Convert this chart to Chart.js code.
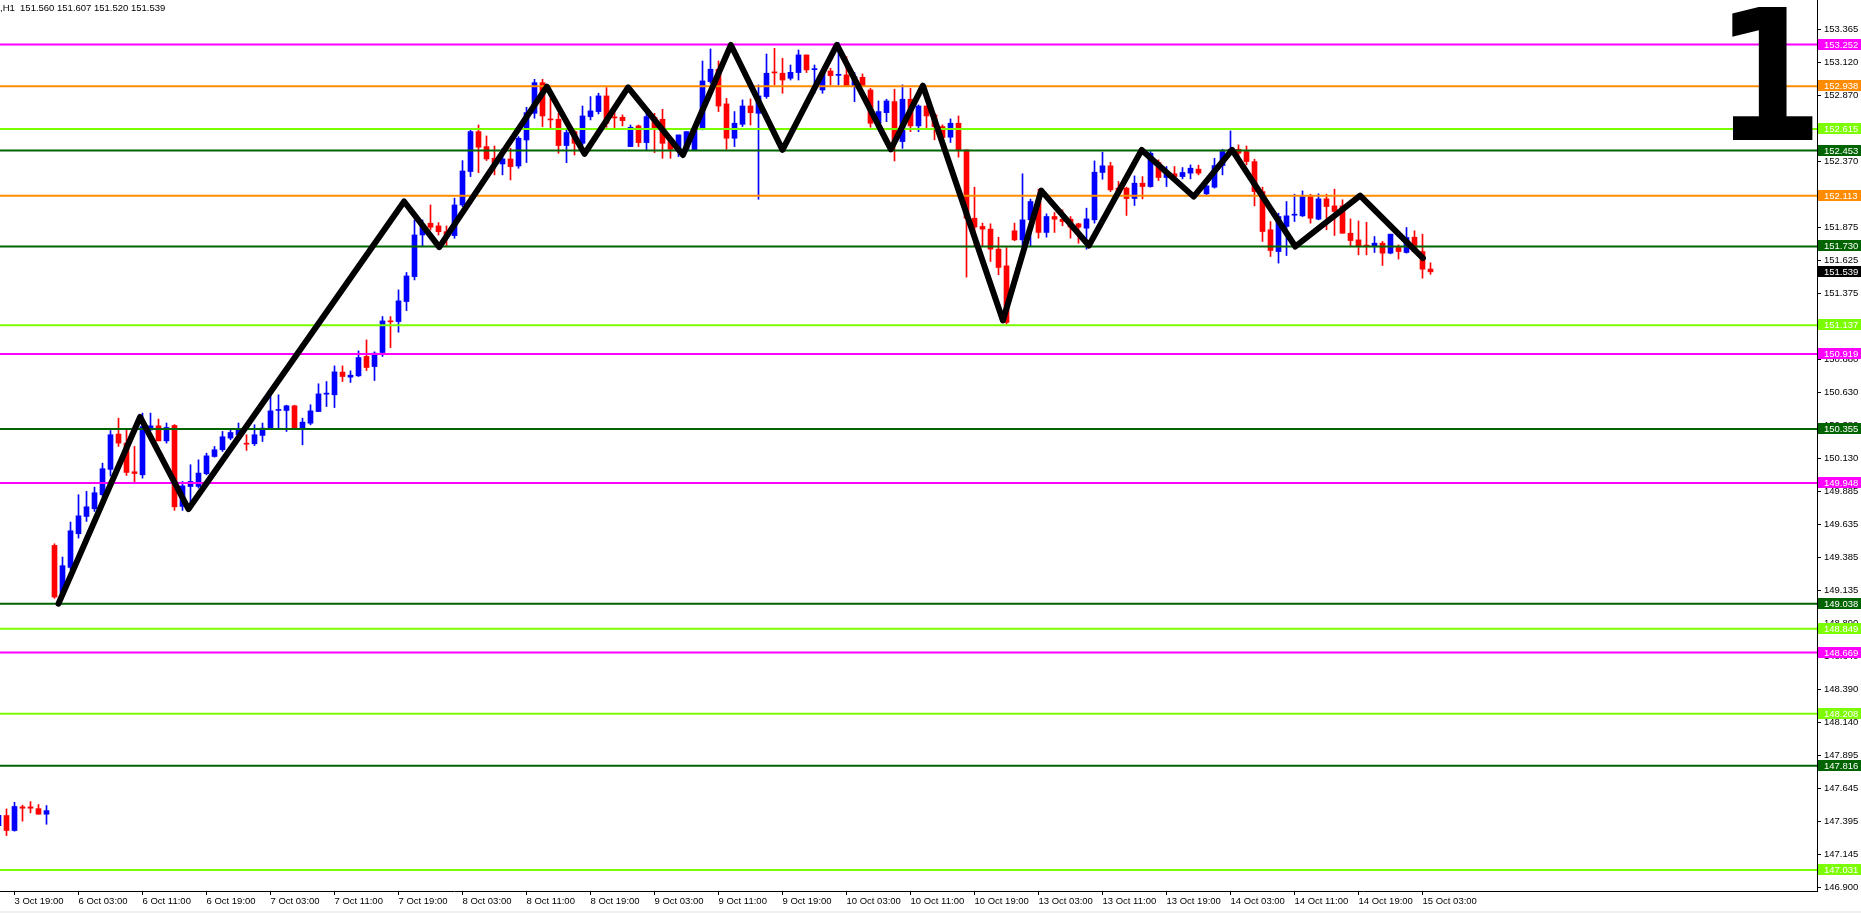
<!DOCTYPE html>
<html>
<head>
<meta charset="utf-8">
<script src="https://cdn.jsdelivr.net/npm/chart.js@4.4.1/dist/chart.umd.min.js"></script>
<style>
  html, body { margin: 0; padding: 0; background: #f0f0f0; }
  #wrap { width: 1861px; height: 911px; background: #fff; position: relative; }
</style>
</head>
<body>
<div id="wrap"><canvas id="chart"></canvas></div>
<script>
// Бары H1, индекс 0 = 3 Oct 18:00, шаг 1 час (выходные пропущены)
const FIRST_BAR = -1;
const opens = [
  147.365, 147.441, 147.328, 147.506, 147.506, 147.493, 147.451,
  149.477, 149.118, 149.311, 149.565, 149.695, 149.753, 149.859, 150.050, 150.316, 150.248,
  150.032, 150.009, 150.348, 150.378, 150.265, 150.381, 149.771, 149.921, 149.921, 150.017,
  150.147, 150.198, 150.286, 150.311, 150.245, 150.243, 150.306, 150.356, 150.494, 150.494,
  150.529, 150.353, 150.398, 150.486, 150.617, 150.612, 150.783, 150.745, 150.755, 150.901,
  150.825, 150.931, 151.169, 151.164, 151.315, 151.503, 151.817, 151.905, 151.885, 151.842,
  151.812, 152.043, 152.295, 152.596, 152.483, 152.395, 152.352, 152.390, 152.337, 152.533,
  152.734, 152.965, 152.691, 152.689, 152.491, 152.596, 152.508, 152.709, 152.747, 152.865,
  152.707, 152.704, 152.483, 152.639, 152.513, 152.704, 152.689, 152.521, 152.463, 152.463,
  152.458, 152.626, 152.973, 153.066, 152.805, 152.546, 152.651, 152.789, 152.734, 152.860,
  153.046, 153.036, 152.998, 153.041, 153.174, 153.063, 152.910, 153.053, 153.020, 153.023,
  152.940, 153.005, 152.910, 152.659, 152.739, 152.822, 152.521, 152.840, 152.639, 152.789,
  152.722, 152.634, 152.554, 152.659, 152.458, 151.943, 151.881, 151.861, 151.710, 151.584,
  151.848, 151.780, 151.931, 152.069, 151.836, 151.956, 151.936, 151.936, 151.901, 151.868,
  151.931, 152.288, 152.338, 152.170, 152.170, 152.092, 152.207, 152.182, 152.363, 152.250,
  152.278, 152.257, 152.283, 152.313, 152.127, 152.177, 152.340, 152.446, 152.463, 152.446,
  152.370, 152.144, 151.856, 151.692, 151.881, 151.966, 151.961, 152.107, 151.936, 152.089,
  152.036, 152.036, 151.830, 151.780, 151.738, 151.730, 151.755, 151.680, 151.723, 151.685,
  151.800, 151.692, 151.560
];
const highs = [
  147.450, 147.491, 147.541, 147.519, 147.546, 147.524, 147.516,
  149.489, 149.389, 149.653, 149.859, 149.884, 149.916, 150.097, 150.343, 150.436, 150.348,
  150.223, 150.474, 150.474, 150.429, 150.399, 150.388, 149.959, 150.085, 150.122, 150.172,
  150.223, 150.336, 150.348, 150.399, 150.311, 150.386, 150.399, 150.612, 150.612, 150.534,
  150.534, 150.436, 150.537, 150.695, 150.712, 150.830, 150.830, 150.793, 150.943, 151.026,
  150.936, 151.202, 151.202, 151.403, 151.534, 151.930, 151.930, 152.043, 151.910, 151.885,
  152.094, 152.377, 152.609, 152.646, 152.563, 152.488, 152.470, 152.470, 152.558, 152.779,
  152.990, 152.990, 152.847, 152.734, 152.609, 152.609, 152.789, 152.860, 152.885, 152.928,
  152.759, 152.722, 152.646, 152.646, 152.734, 152.734, 152.764, 152.533, 152.571, 152.596,
  152.614, 153.128, 153.219, 153.128, 152.847, 152.747, 152.835, 152.842, 152.948, 153.181,
  153.224, 153.149, 153.098, 153.211, 153.174, 153.098, 153.061, 153.073, 153.267, 153.161,
  153.041, 153.031, 152.922, 152.827, 152.840, 152.915, 152.948, 152.923, 152.797, 152.789,
  152.734, 152.647, 152.692, 152.714, 152.458, 152.177, 151.906, 151.901, 151.800, 151.722,
  151.906, 152.278, 152.087, 152.162, 151.976, 151.986, 152.006, 151.956, 151.906, 152.019,
  152.375, 152.441, 152.365, 152.220, 152.177, 152.262, 152.257, 152.446, 152.383, 152.333,
  152.333, 152.325, 152.345, 152.343, 152.195, 152.395, 152.463, 152.601, 152.496, 152.488,
  152.388, 152.177, 151.918, 151.981, 152.069, 152.124, 152.149, 152.124, 152.127, 152.124,
  152.162, 152.082, 151.938, 151.923, 151.913, 151.805, 151.768, 151.823, 151.742, 151.873,
  151.848, 151.823, 151.607
];
const lows = [
  147.360, 147.290, 147.323, 147.398, 147.461, 147.451, 147.375,
  149.078, 149.105, 149.294, 149.532, 149.658, 149.733, 149.846, 150.000, 150.223, 150.004,
  149.952, 149.984, 150.343, 150.265, 150.248, 149.741, 149.741, 149.746, 149.909, 150.009,
  150.142, 150.185, 150.273, 150.298, 150.193, 150.230, 150.260, 150.356, 150.353, 150.336,
  150.353, 150.235, 150.386, 150.486, 150.524, 150.516, 150.712, 150.705, 150.750, 150.795,
  150.720, 150.901, 150.968, 151.084, 151.247, 151.478, 151.734, 151.855, 151.817, 151.734,
  151.792, 152.031, 152.257, 152.287, 152.378, 152.270, 152.270, 152.232, 152.320, 152.363,
  152.697, 152.634, 152.621, 152.433, 152.362, 152.420, 152.496, 152.684, 152.729, 152.629,
  152.626, 152.639, 152.483, 152.483, 152.458, 152.438, 152.395, 152.395, 152.408, 152.445,
  152.458, 152.609, 152.960, 152.747, 152.463, 152.483, 152.634, 152.646, 152.086, 152.847,
  152.948, 152.885, 152.985, 152.985, 153.041, 152.885, 152.885, 152.948, 152.948, 152.935,
  152.822, 152.935, 152.629, 152.651, 152.671, 152.375, 152.470, 152.596, 152.596, 152.621,
  152.534, 152.534, 152.514, 152.403, 151.499, 151.730, 151.730, 151.617, 151.517, 151.145,
  151.773, 151.735, 151.735, 151.793, 151.800, 151.836, 151.886, 151.793, 151.755, 151.710,
  151.906, 152.237, 152.144, 152.107, 151.964, 152.039, 152.089, 152.177, 152.227, 152.182,
  152.220, 152.240, 152.240, 152.270, 152.119, 152.170, 152.270, 152.433, 152.358, 152.345,
  152.036, 151.768, 151.655, 151.605, 151.662, 151.918, 151.956, 151.906, 151.931, 151.856,
  151.813, 151.830, 151.730, 151.667, 151.667, 151.685, 151.587, 151.675, 151.635, 151.680,
  151.685, 151.491, 151.520
];
const closes = [
  147.443, 147.328, 147.509, 147.496, 147.496, 147.451, 147.478,
  149.088, 149.324, 149.587, 149.700, 149.768, 149.874, 150.055, 150.311, 150.248, 150.027,
  150.019, 150.373, 150.378, 150.265, 150.366, 149.768, 149.926, 149.959, 150.022, 150.152,
  150.198, 150.296, 150.328, 150.348, 150.240, 150.311, 150.361, 150.491, 150.500, 150.529,
  150.353, 150.406, 150.491, 150.619, 150.622, 150.785, 150.750, 150.760, 150.893, 150.818,
  150.926, 151.169, 151.162, 151.320, 151.508, 151.817, 151.893, 151.875, 151.842, 151.817,
  152.043, 152.299, 152.596, 152.478, 152.390, 152.357, 152.390, 152.332, 152.546, 152.739,
  152.965, 152.714, 152.684, 152.491, 152.589, 152.508, 152.714, 152.752, 152.865, 152.659,
  152.699, 152.679, 152.629, 152.513, 152.709, 152.621, 152.508, 152.463, 152.571, 152.596,
  152.614, 152.978, 153.066, 152.789, 152.546, 152.659, 152.789, 152.739, 152.865, 153.036,
  153.038, 152.985, 153.043, 153.174, 153.061, 153.068, 153.036, 153.018, 153.025, 152.940,
  153.010, 152.940, 152.659, 152.747, 152.827, 152.526, 152.840, 152.639, 152.789, 152.714,
  152.634, 152.551, 152.659, 152.458, 151.943, 151.876, 151.861, 151.710, 151.572, 151.158,
  151.780, 151.931, 152.069, 151.836, 151.956, 151.936, 151.918, 151.876, 151.876, 151.938,
  152.290, 152.338, 152.157, 152.132, 152.092, 152.207, 152.182, 152.433, 152.250, 152.283,
  152.257, 152.288, 152.320, 152.283, 152.187, 152.340, 152.446, 152.463, 152.433, 152.370,
  152.144, 151.843, 151.700, 151.956, 151.961, 151.971, 152.107, 151.943, 152.089, 152.031,
  151.994, 151.830, 151.775, 151.735, 151.733, 151.755, 151.680, 151.823, 151.692, 151.798,
  151.692, 151.559, 151.539
];

// ZigZag (индекс бара, цена)
const zigzagBars   = [6.5, 16.7, 22.75, 49.7, 54.1, 67.55, 72.25, 77.7, 84.55, 90.55, 97.0, 103.8,
                      110.55, 114.55, 124.55, 129.35, 135.3, 141.9, 148.4, 153.2, 161.1, 169.2, 177.05];
const zigzagPrices = [149.038, 150.445, 149.751, 152.069, 151.725, 152.935, 152.428, 152.930, 152.420,
                      153.249, 152.458, 153.249, 152.463, 152.943, 151.172, 152.151, 151.737, 152.458,
                      152.106, 152.458, 151.730, 152.114, 151.642];

// Горизонтальные уровни
const levelPrices = [153.252, 152.938, 152.615, 152.453, 152.113, 151.730, 151.137, 150.919,
                     150.355, 149.948, 149.038, 148.849, 148.669, 148.208, 147.816, 147.031];
const levelColors = ['#ff00ff', '#ff8c00', '#7cfc00', '#006400', '#ff8c00', '#006400', '#7cfc00', '#ff00ff',
                     '#006400', '#ff00ff', '#006400', '#7cfc00', '#ff00ff', '#7cfc00', '#006400', '#7cfc00'];

const priceTicks = [153.365, 153.120, 152.870, 152.625, 152.370, 152.120, 151.875, 151.625, 151.375,
                    151.130, 150.880, 150.630, 150.380, 150.130, 149.885, 149.635, 149.385, 149.135,
                    148.890, 148.640, 148.390, 148.140, 147.895, 147.645, 147.395, 147.145, 146.900];
const timeLabels = ['3 Oct 19:00', '6 Oct 03:00', '6 Oct 11:00', '6 Oct 19:00', '7 Oct 03:00', '7 Oct 11:00',
                    '7 Oct 19:00', '8 Oct 03:00', '8 Oct 11:00', '8 Oct 19:00', '9 Oct 03:00', '9 Oct 11:00',
                    '9 Oct 19:00', '10 Oct 03:00', '10 Oct 11:00', '10 Oct 19:00', '13 Oct 03:00', '13 Oct 11:00',
                    '13 Oct 19:00', '14 Oct 03:00', '14 Oct 11:00', '14 Oct 19:00', '15 Oct 03:00'];
const TIME_TICK_FIRST = 1;
const TIME_TICK_STEP = 8;

const headerText = ',H1  151.560 151.607 151.520 151.539';
const bidPrice = 151.539;
const bigLabel = '1';

// Вид
const X_MIN = -0.8125, X_MAX = 226.3125;
const Y_MIN = 146.872, Y_MAX = 153.588;
const UP = '#0000ff', DOWN = '#ff0000';
const FONT = { family: '"Liberation Sans", Arial, sans-serif', size: 9.5 };

function candleColor(ctx) {
    const i = ctx.dataIndex;
    return closes[i] >= opens[i] ? UP : DOWN;
}

const wickData = highs.map((h, i) => ({ x: FIRST_BAR + i, y: [lows[i], h] }));
const bodyData = opens.map((o, i) => ({ x: FIRST_BAR + i, y: [o, closes[i]] }));
const zigzagData = zigzagBars.map((b, i) => ({ x: b, y: zigzagPrices[i] }));

const levelSets = levelPrices.map((p, i) => ({
    type: 'line',
    data: [{ x: X_MIN, y: p }, { x: X_MAX, y: p }],
    borderColor: levelColors[i],
    borderWidth: 2,
    pointRadius: 0,
    order: 1
}));

// Подписи уровней, заголовок и большая цифра
const overlayPlugin = {
    id: 'overlay',
    afterDraw(chart) {
        const ctx = chart.ctx;
        const y = chart.scales.y;
        const area = chart.chartArea;
        ctx.save();
        ctx.font = '9.5px "Liberation Sans", Arial, sans-serif';
        ctx.textBaseline = 'middle';
        ctx.textAlign = 'left';
        const tag = (price, bg) => {
            const py = Math.round(y.getPixelForValue(price));
            ctx.fillStyle = bg;
            ctx.fillRect(area.right + 1, py - 6, chart.width - area.right - 1, 11);
            ctx.fillStyle = '#fff';
            ctx.fillText(price.toFixed(3), area.right + 7, py);
        };
        levelPrices.forEach((p, i) => tag(p, levelColors[i]));
        tag(bidPrice, '#000');

        ctx.fillStyle = '#000';
        ctx.textBaseline = 'alphabetic';
        ctx.fillText(headerText, 0, 11);

        // большая "1" в правом верхнем углу
        ctx.font = 'bold 181px "DejaVu Sans", sans-serif';
        ctx.textAlign = 'right';
        ctx.translate(area.right + 6, 140);
        ctx.scale(0.86, 1);
        ctx.fillText(bigLabel, 0, 0);
        ctx.restore();
    }
};

new Chart(document.getElementById('chart'), {
    type: 'bar',
    data: {
        datasets: [
            {
                type: 'line',
                data: zigzagData,
                borderColor: '#000',
                borderWidth: 6,
                pointRadius: 0,
                borderJoinStyle: 'round',
                borderCapStyle: 'round',
                order: 0
            },
            ...levelSets,
            {
                data: bodyData,
                backgroundColor: candleColor,
                barThickness: 5,
                minBarLength: 1,
                grouped: false,
                order: 2
            },
            {
                data: wickData,
                backgroundColor: candleColor,
                barThickness: 1,
                grouped: false,
                order: 3
            }
        ]
    },
    options: {
        responsive: true,
        maintainAspectRatio: false,
        animation: false,
        layout: { padding: 0 },
        plugins: { legend: { display: false }, tooltip: { enabled: false } },
        scales: {
            x: {
                type: 'linear',
                min: X_MIN,
                max: X_MAX,
                offset: false,
                afterBuildTicks: s => {
                    s.ticks = timeLabels.map((_, j) => ({ value: TIME_TICK_FIRST + j * TIME_TICK_STEP }));
                },
                afterFit: s => { s.height = 20; s.paddingLeft = 0; s.paddingRight = 0; },
                ticks: {
                    autoSkip: false, maxRotation: 0, minRotation: 0, align: 'start', padding: 1,
                    color: '#000', font: FONT,
                    callback: (v, i) => timeLabels[i]
                },
                grid: { offset: false, drawOnChartArea: false, drawTicks: true, tickLength: 4, color: '#000' },
                border: { display: true, color: '#000', width: 1 }
            },
            y: {
                type: 'linear',
                position: 'right',
                min: Y_MIN,
                max: Y_MAX,
                beginAtZero: false,
                afterBuildTicks: s => { s.ticks = priceTicks.map(v => ({ value: v })); },
                afterFit: s => { s.width = 44; s.paddingTop = 0; s.paddingBottom = 0; },
                ticks: {
                    autoSkip: false, padding: 3, color: '#000', font: FONT,
                    callback: v => v.toFixed(3)
                },
                grid: { drawOnChartArea: false, drawTicks: true, tickLength: 4, color: '#000' },
                border: { display: true, color: '#000', width: 1 }
            }
        }
    },
    plugins: [overlayPlugin]
});
</script>
</body>
</html>
